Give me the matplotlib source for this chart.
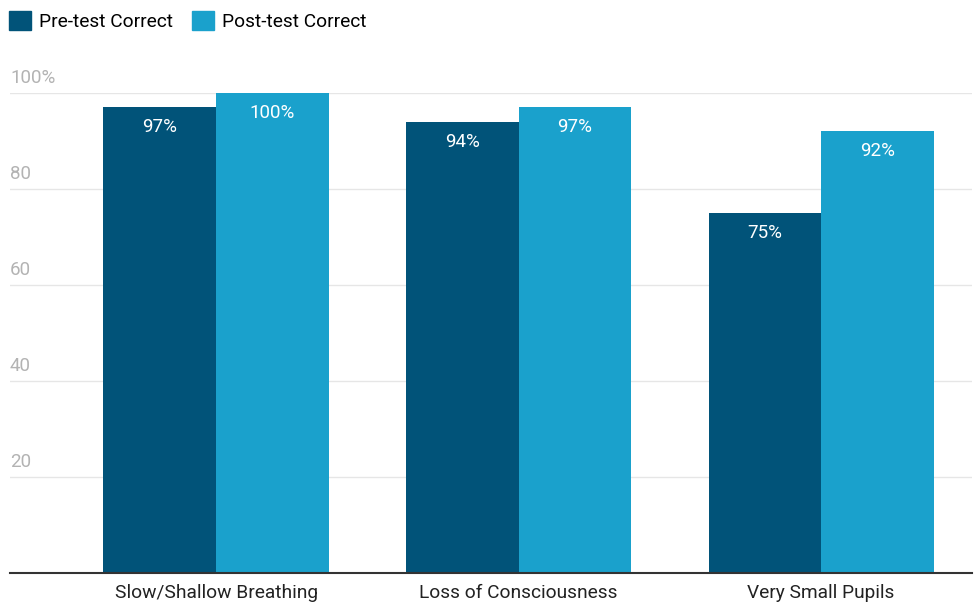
import numpy as np
import matplotlib
matplotlib.use("Agg")
import matplotlib.pyplot as plt
from matplotlib.patches import Patch
from matplotlib.transforms import blended_transform_factory

plt.rcParams["font.family"] = ["Roboto", "DejaVu Sans"]

categories = ["Slow/Shallow Breathing", "Loss of Consciousness", "Very Small Pupils"]
pre_test = [97, 94, 75]
post_test = [100, 97, 92]
series_names = ["Pre-test Correct", "Post-test Correct"]
y_ticks = [20, 40, 60, 80, 100]
y_tick_labels = ["20", "40", "60", "80", "100%"]

pre_color = "#015379"
post_color = "#1aa1cc"

fig = plt.figure(figsize=(9.77, 6.03), dpi=100)
ax = fig.add_axes([10 / 977, 30 / 603, 962 / 977, 480 / 603])

x = np.arange(len(categories))
width = 0.372
bars_pre = ax.bar(x - width / 2, pre_test, width, color=pre_color, zorder=2)
bars_post = ax.bar(x + width / 2, post_test, width, color=post_color, zorder=2)

for bars, vals in ((bars_pre, pre_test), (bars_post, post_test)):
    for b, v in zip(bars, vals):
        ax.annotate(f"{v}%", (b.get_x() + b.get_width() / 2, v),
                    xytext=(0, -20), textcoords="offset pixels",
                    ha="center", va="center", color="white", fontsize=13.5, zorder=3)

ax.set_xlim(-0.681, 2.499)
ax.set_ylim(0, 100)

for t in y_ticks:
    ax.axhline(t, color="#e6e6e6", lw=1, zorder=1)
trans = blended_transform_factory(ax.transAxes, ax.transData)
for t, lab in zip(y_ticks, y_tick_labels):
    ax.annotate(lab, (0, t), xycoords=trans, xytext=(0, 15), textcoords="offset pixels",
                ha="left", va="center", color="#b3b3b3", fontsize=13.5)

ax.set_yticks([])
ax.set_xticks(x)
ax.set_xticklabels(categories, fontsize=13.8, color="#222222")
ax.tick_params(axis="x", length=0, pad=8)
for side in ("top", "right", "left"):
    ax.spines[side].set_visible(False)
ax.spines["bottom"].set_color("#333333")
ax.spines["bottom"].set_linewidth(1.5)
ax.spines["bottom"].set_zorder(4)

handles = [Patch(color=pre_color), Patch(color=post_color)]
fig.legend(handles, series_names, loc="upper left", bbox_to_anchor=(9 / 977, 1 - 11 / 603),
           ncol=2, frameon=False, fontsize=13.8, handlelength=1.15, handleheight=1.15,
           handletextpad=0.4, columnspacing=1.0, borderpad=0, borderaxespad=0)

fig.savefig("out.png", dpi=100)
